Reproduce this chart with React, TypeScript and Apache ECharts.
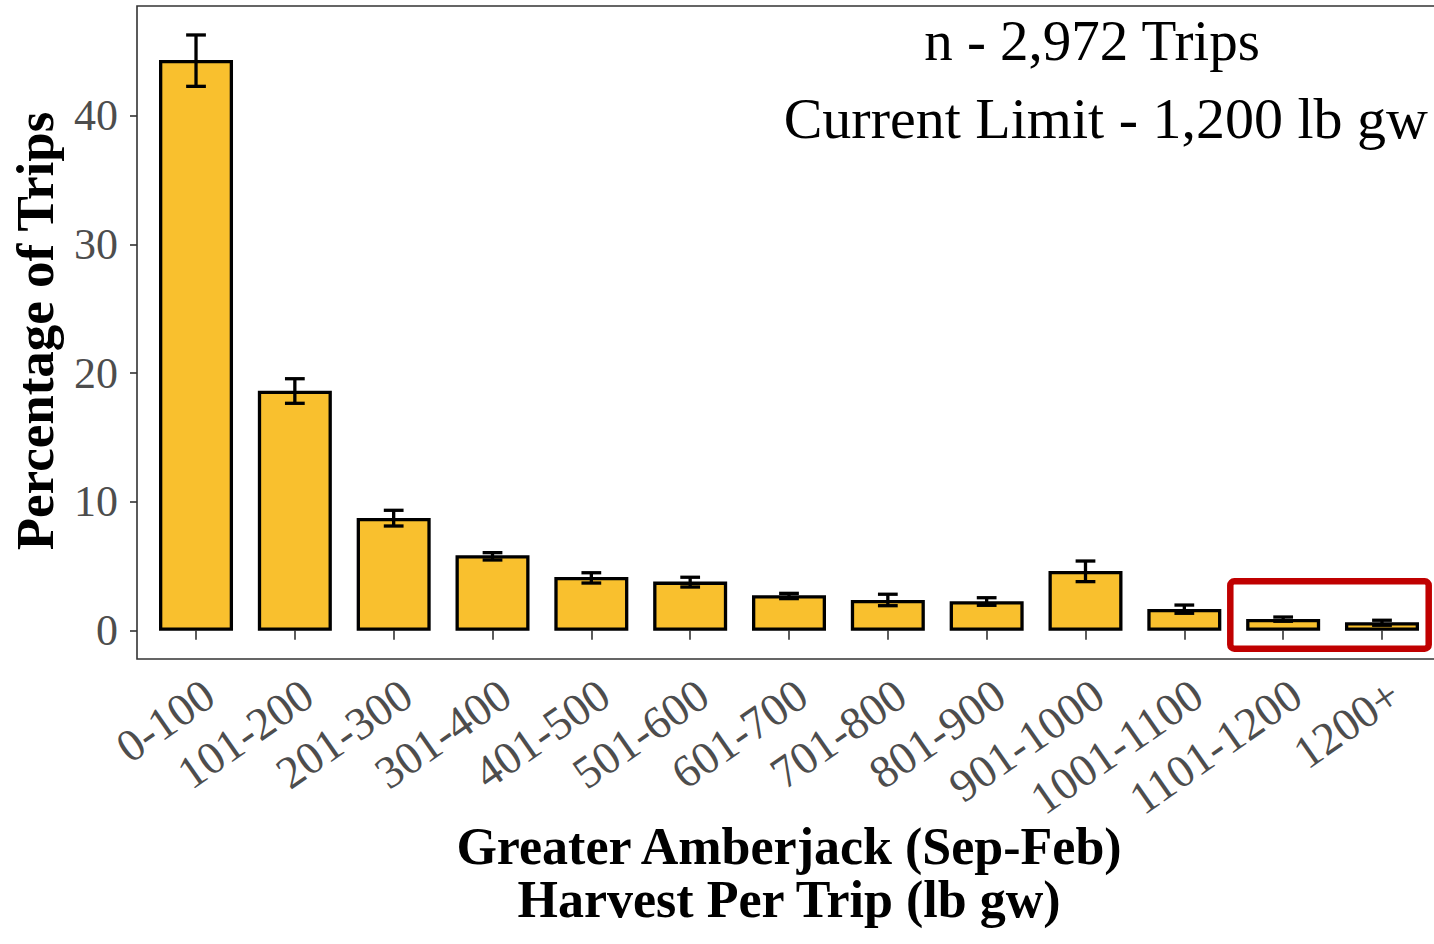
import React, { useEffect, useRef } from "react";
import * as echarts from "echarts";

const categories = [
  "0-100", "101-200", "201-300", "301-400", "401-500", "501-600", "601-700",
  "701-800", "801-900", "901-1000", "1001-1100", "1101-1200", "1200+",
];
const percentages = [44.33, 18.64, 8.75, 5.86, 4.17, 3.81, 2.75, 2.38, 2.28, 4.64, 1.69, 0.91, 0.65];
const errLow = [42.28, 17.66, 8.13, 5.49, 3.7, 3.39, 2.49, 1.94, 1.97, 3.81, 1.35, 0.73, 0.42];
const errHigh = [46.27, 19.57, 9.35, 6.06, 4.5, 4.15, 2.9, 2.83, 2.56, 5.41, 1.99, 1.06, 0.81];
const yTicks = [0, 10, 20, 30, 40];

const annotationLine1 = "n - 2,972 Trips";
const annotationLine2 = "Current Limit - 1,200 lb gw";
const yTitle = "Percentage of Trips";
const xTitle1 = "Greater Amberjack (Sep-Feb)";
const xTitle2 = "Harvest Per Trip (lb gw)";

const FONT = '"Liberation Serif", "Times New Roman", Times, serif';

export default function App() {
  const ref = useRef<HTMLDivElement>(null);

  useEffect(() => {
    if (!ref.current) return;
    const chart = echarts.init(ref.current, null, { renderer: "svg" });

    const panelLeft = 137;
    const panelTop = 6;
    const panelBottom = 659;
    const gridLeft = 146.6;
    const gridRight = 2.6;

    const option: any = {
      animation: false,
      backgroundColor: "#ffffff",
      textStyle: { fontFamily: FONT },
      grid: {
        left: gridLeft,
        right: gridRight,
        top: panelTop,
        bottom: 944 - panelBottom,
        containLabel: false,
      },
      xAxis: {
        type: "category",
        data: categories,
        axisLine: { show: false },
        axisTick: {
          show: true,
          alignWithLabel: true,
          length: 9,
          lineStyle: { color: "#333333", width: 1.6 },
        },
        axisLabel: {
          interval: 0,
          rotate: 35,
          margin: 12,
          verticalAlign: "top",
          fontSize: 46,
          fontFamily: FONT,
          color: "#4D4D4D",
        },
        splitLine: { show: false },
      },
      yAxis: {
        type: "value",
        min: -2.2,
        max: 48.52,
        offset: gridLeft - panelLeft,
        axisLine: { show: false },
        axisTick: {
          show: true,
          length: 7,
          customValues: yTicks,
          lineStyle: { color: "#333333", width: 1.6 },
        },
        axisLabel: {
          customValues: yTicks,
          margin: 19,
          fontSize: 44,
          fontFamily: FONT,
          color: "#4D4D4D",
        },
        splitLine: { show: false },
      },
      series: [
        {
          type: "bar",
          data: percentages,
          barWidth: 74,
          itemStyle: {
            color: "#F9C02E",
            borderColor: "#000000",
            borderWidth: 3.3,
          },
          z: 2,
        },
        {
          type: "custom",
          z: 3,
          encode: { x: 0, y: [1, 2] },
          data: categories.map((_, i) => [i, errLow[i], errHigh[i]]),
          renderItem: (params: any, api: any) => {
            const i = api.value(0);
            const lo = api.value(1);
            const hi = api.value(2);
            const top = api.coord([i, hi]);
            const bot = api.coord([i, lo]);
            const half = api.size([1, 0])[0] * 0.1;
            const style = { stroke: "#000000", lineWidth: 3.3, fill: "none" };
            return {
              type: "group",
              children: [
                { type: "line", shape: { x1: top[0], y1: top[1], x2: bot[0], y2: bot[1] }, style },
                { type: "line", shape: { x1: top[0] - half, y1: top[1], x2: top[0] + half, y2: top[1] }, style },
                { type: "line", shape: { x1: bot[0] - half, y1: bot[1], x2: bot[0] + half, y2: bot[1] }, style },
              ],
            };
          },
        },
      ],
      graphic: [
        {
          type: "rect",
          silent: true,
          z: 10,
          shape: { x: panelLeft, y: panelTop, width: 1310, height: panelBottom - panelTop },
          style: { fill: "none", stroke: "#333333", lineWidth: 1.6 },
        },
        {
          type: "rect",
          silent: true,
          z: 11,
          shape: { x: 1230.3, y: 581.3, width: 198.4, height: 67.4, r: 4 },
          style: { fill: "none", stroke: "#C00000", lineWidth: 6.5 },
        },
        {
          type: "text",
          z: 12,
          x: 1092,
          y: 40,
          style: {
            text: annotationLine1,
            fontFamily: FONT,
            fontSize: 57,
            fill: "#000000",
            align: "center",
            verticalAlign: "middle",
          },
        },
        {
          type: "text",
          z: 12,
          x: 1428,
          y: 118,
          style: {
            text: annotationLine2,
            fontFamily: FONT,
            fontSize: 58,
            fill: "#000000",
            align: "right",
            verticalAlign: "middle",
          },
        },
        {
          type: "text",
          z: 12,
          x: 35,
          y: 331,
          rotation: Math.PI / 2,
          style: {
            text: yTitle,
            fontFamily: FONT,
            fontWeight: "bold",
            fontSize: 53,
            fill: "#000000",
            align: "center",
            verticalAlign: "middle",
          },
        },
        {
          type: "text",
          z: 12,
          x: 789,
          y: 846,
          style: {
            text: xTitle1,
            fontFamily: FONT,
            fontWeight: "bold",
            fontSize: 52,
            fill: "#000000",
            align: "center",
            verticalAlign: "middle",
          },
        },
        {
          type: "text",
          z: 12,
          x: 789,
          y: 899,
          style: {
            text: xTitle2,
            fontFamily: FONT,
            fontWeight: "bold",
            fontSize: 52,
            fill: "#000000",
            align: "center",
            verticalAlign: "middle",
          },
        },
      ],
    };

    chart.setOption(option);
    return () => {
      chart.dispose();
    };
  }, []);

  return (
    <div
      ref={ref}
      style={{ position: "absolute", left: 0, top: 0, width: 1434, height: 944, background: "#ffffff" }}
    />
  );
}
